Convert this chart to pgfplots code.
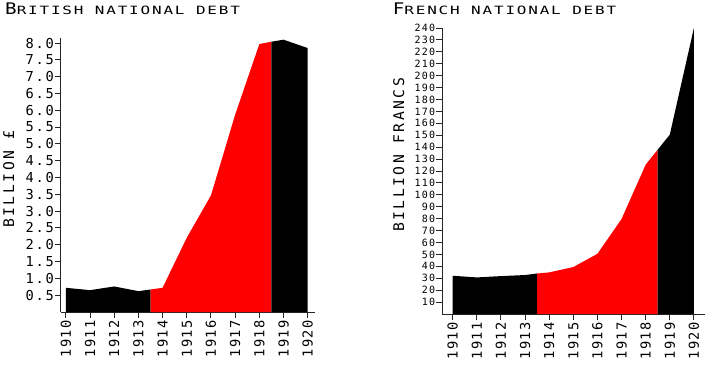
\documentclass[border=0pt]{standalone}
\usepackage{fontspec}
\usepackage{pgfplots}
\pgfplotsset{compat=1.18}
\newfontfamily\tkA[LetterSpace=12.8]{DejaVu Sans Mono}
\newfontfamily\tkB[LetterSpace=11.8]{DejaVu Sans Mono}
\newfontfamily\tkX[LetterSpace=10]{DejaVu Sans Mono}
\newfontfamily\labf[LetterSpace=17]{DejaVu Sans Mono}
\newfontfamily\ttB[FakeStretch=1.2,LetterSpace=8]{DejaVu Sans Mono}
\newfontfamily\ttS[FakeStretch=1.4,LetterSpace=16]{DejaVu Sans Mono}
\newcommand{\ttl}[2]{{\ttB\fontsize{16}{16}\selectfont #1}{\ttS\fontsize{11.4}{11.4}\selectfont #2}}
\pgfplotsset{
  common/.style={
    scale only axis,
    axis lines*=left,
    axis line style={-, black!85, line width=1pt},
    tick style={black!85, line width=1pt},
    tick align=outside,
    major tick length=6pt,
    enlargelimits=false,
    /pgf/number format/assume math mode=true,
    xtick={1910,1911,...,1920},
    xticklabels={1910,1911,1912,1913,1914,1915,1916,1917,1918,1919,1920},
    xticklabel style={font=\tkX\fontsize{13.7}{13.7}\selectfont, rotate=90, anchor=east, inner sep=2pt},
    ymin=0,
  }
}
\begin{document}
\begin{tikzpicture}
\useasboundingbox (0,0) rectangle (728pt,365pt);
\begin{axis}[common,
  at={(61pt,53pt)}, anchor=south west,
  width=254pt, height=274pt,
  xmin=1909.8, xmax=1920.3, ymax=8.15,
  ytick={0.5,1,...,8},
  yticklabels={0.5,1.0,1.5,2.0,2.5,3.0,3.5,4.0,4.5,5.0,5.5,6.0,6.5,7.0,7.5,8.0},
  yticklabel style={font=\tkA\fontsize{13.7}{13.7}\selectfont, inner sep=1pt},
  ylabel={BILLION £},
  ylabel style={font=\labf\fontsize{14.7}{14.7}\selectfont, at={(axis description cs:-0.206,0.485)}, anchor=center},
]
\addplot[fill=black, draw=none] coordinates {(1910,0.72) (1911,0.65) (1912,0.76) (1913,0.62) (1913.5,0.67)} \closedcycle;
\addplot[fill=red, draw=none] coordinates {(1913.5,0.67) (1914,0.72) (1915,2.21) (1916,3.47) (1917,5.87) (1918,7.97) (1918.5,8.04)} \closedcycle;
\addplot[fill=black, draw=none] coordinates {(1918.5,8.04) (1919,8.1) (1920,7.85)} \closedcycle;
\end{axis}
\begin{axis}[common,
  at={(442.3pt,51pt)}, anchor=south west,
  width=262.7pt, height=286pt,
  xmin=1909.57, xmax=1920.46, ymax=240,
  ytick={10,20,...,240},
  yticklabel style={font=\tkB\fontsize{10}{10}\selectfont, inner sep=1pt},
  ylabel={BILLION FRANCS},
  ylabel style={font=\labf\fontsize{14.7}{14.7}\selectfont, at={(axis description cs:-0.166,0.556)}, anchor=center},
]
\addplot[fill=black, draw=none] coordinates {(1910,32.1) (1911,30.7) (1912,31.8) (1913,32.7) (1913.5,34.0)} \closedcycle;
\addplot[fill=red, draw=none] coordinates {(1913.5,34.0) (1914,34.9) (1915,39.4) (1916,50.5) (1917,79.7) (1918,125.3) (1918.5,137.9)} \closedcycle;
\addplot[fill=black, draw=none] coordinates {(1918.5,137.9) (1919,150.5) (1920,240)} \closedcycle;
\end{axis}
\node[anchor=base west, inner sep=0pt] at (5pt,350pt) {\ttl{B}{RITISH NATIONAL DEBT}};
\node[anchor=base west, inner sep=0pt] at (392.7pt,350pt) {\ttl{F}{RENCH NATIONAL DEBT}};
\end{tikzpicture}
\end{document}
